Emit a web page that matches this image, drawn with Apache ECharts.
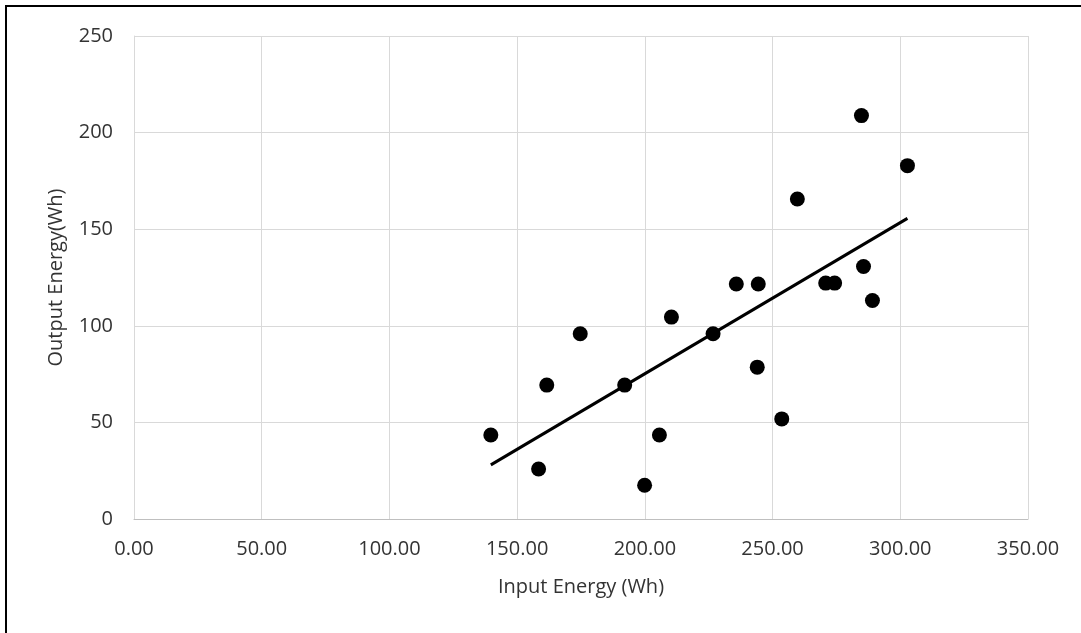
<!DOCTYPE html>
<html>
<head>
<meta charset="utf-8">
<script src="https://cdn.jsdelivr.net/npm/echarts@6/dist/echarts.min.js"></script>
<style>
  html, body { margin: 0; padding: 0; background: #fff; overflow: hidden; }
  #frame { position: absolute; left: 5px; top: 5px; width: 2000px; height: 2000px; border: 2px solid #000; box-sizing: border-box; }
  #chart { position: absolute; left: 0; top: 0; width: 1081px; height: 633px; }
</style>
</head>
<body>
<div id="frame"></div>
<div id="chart"></div>
<script>
// input energy (Wh) per run
const inputWh = [139.7, 158.4, 161.6, 174.7, 192.1, 199.9, 205.7, 210.4, 226.7, 235.8,
                 244.4, 244.0, 253.6, 259.7, 270.8, 274.3, 284.8, 285.6, 289.1, 302.8];
// output energy (Wh) per run
const outputWh = [43.5, 25.9, 69.3, 95.9, 69.3, 17.5, 43.5, 104.5, 95.9, 121.6,
                  121.6, 78.6, 51.8, 165.6, 122.1, 122.1, 208.8, 130.7, 113.1, 182.9];

const points = inputWh.map((x, i) => [x, outputWh[i]]);

// linear trendline (least squares), spanning the data like Excel does
let n = points.length, sx = 0, sy = 0, sxx = 0, sxy = 0;
points.forEach(([x, y]) => { sx += x; sy += y; sxx += x * x; sxy += x * y; });
const slope = (n * sxy - sx * sy) / (n * sxx - sx * sx);
const icpt = (sy - slope * sx) / n;
const xMin = Math.min(...inputWh), xMax = Math.max(...inputWh);
const trend = [[xMin, icpt + slope * xMin], [xMax, icpt + slope * xMax]];

const font = '"Open Sans", "Noto Sans", sans-serif';
const textColor = '#333';

let chart = echarts.init(document.getElementById('chart'), null, { renderer: 'canvas' });
chart.setOption({
  animation: false,
  grid: { left: 134, right: 53, top: 36, bottom: 114 },
  xAxis: {
    type: 'value', min: 0, max: 350, interval: 50,
    name: 'Input Energy (Wh)', nameLocation: 'middle', nameGap: 58,
    nameTextStyle: { fontFamily: font, fontSize: 20, color: textColor },
    axisLine: { show: true, lineStyle: { color: '#bfbfbf', width: 1 } },
    axisTick: { show: false },
    axisLabel: { fontFamily: font, fontSize: 20, color: textColor, margin: 20,
                 formatter: v => v.toFixed(2) },
    splitLine: { show: true, lineStyle: { color: '#d9d9d9', width: 1 } }
  },
  yAxis: {
    type: 'value', min: 0, max: 250, interval: 50,
    name: 'Output Energy(Wh)', nameLocation: 'middle', nameGap: 68, nameRotate: 90,
    nameTextStyle: { fontFamily: font, fontSize: 20, color: textColor },
    axisLine: { show: true, lineStyle: { color: '#d9d9d9', width: 1 } },
    axisTick: { show: false },
    axisLabel: { fontFamily: font, fontSize: 20, color: textColor, margin: 21 },
    splitLine: { show: true, lineStyle: { color: '#d9d9d9', width: 1 } }
  },
  series: [
    {
      type: 'scatter',
      data: points,
      symbolSize: 15,
      itemStyle: { color: '#000', opacity: 1 },
      z: 3
    },
    {
      type: 'line',
      data: trend,
      symbol: 'none',
      lineStyle: { color: '#000', width: 3 },
      z: 2
    }
  ]
});
</script>
</body>
</html>
